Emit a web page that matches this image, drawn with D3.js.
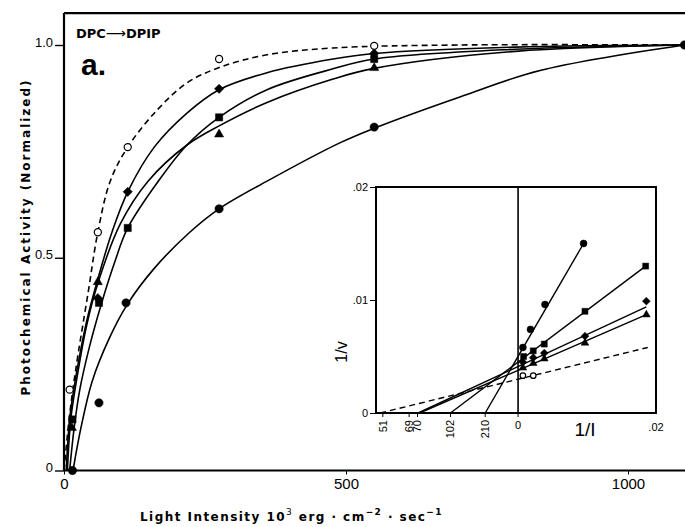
<!DOCTYPE html>
<html>
<head>
<meta charset="utf-8">
<script src="https://cdn.jsdelivr.net/npm/d3@7"></script>
<style>
  body { margin: 0; background: #fff; }
  svg { display: block; }
  .tick text { font-family: "Liberation Sans", Arial, sans-serif; fill: #000; }
</style>
</head>
<body>
<svg id="chart" width="685" height="527"></svg>
<script>
// ---- main chart: light saturation curves (x = 10^3 erg/cm2/sec, y = normalized activity)
var openPts     = [[10, 0.19], [60, 0.56], [113, 0.76], [275, 0.967], [550, 0.998]];
var diamondPts  = [[60, 0.405], [113, 0.655], [275, 0.897], [550, 0.98]];
var squarePts   = [[15, 0.12], [62, 0.394], [113, 0.57], [275, 0.83], [550, 0.967]];
var trianglePts = [[14, 0.10], [60, 0.443], [275, 0.79], [550, 0.946]];
var dotPts      = [[15, 0], [62, 0.159], [110, 0.394], [275, 0.615], [550, 0.807], [1100, 1.0]];

// hand-drawn fitted curves
var openCurve     = [[0, 0], [9, 0.12], [20, 0.23], [43, 0.42], [60, 0.56], [82, 0.68], [113, 0.76], [165, 0.847], [218, 0.911], [277, 0.948], [360, 0.977], [477, 0.993], [700, 1.0], [1100, 1.0]];
var diamondCurve  = [[4, 0], [10, 0.12], [21, 0.22], [40, 0.35], [60, 0.45], [85, 0.56], [113, 0.655], [160, 0.76], [218, 0.84], [275, 0.895], [360, 0.935], [477, 0.967], [550, 0.98], [800, 0.995], [1100, 1.0]];
var squareCurve   = [[10, 0], [18, 0.10], [28, 0.19], [45, 0.29], [67, 0.395], [90, 0.49], [113, 0.57], [170, 0.685], [218, 0.765], [275, 0.83], [360, 0.895], [477, 0.944], [550, 0.967], [800, 0.99], [1100, 1.0]];
var triangleCurve = [[6, 0], [12, 0.12], [22, 0.21], [40, 0.34], [60, 0.44], [100, 0.58], [149, 0.68], [218, 0.765], [275, 0.81], [360, 0.865], [477, 0.92], [550, 0.945], [800, 0.985], [1100, 1.0]];
var dotCurve      = [[16, 0], [30, 0.10], [50, 0.21], [80, 0.31], [112, 0.39], [160, 0.475], [223, 0.56], [275, 0.615], [360, 0.68], [489, 0.77], [551, 0.805], [702, 0.878], [844, 0.94], [1100, 1.0]];

var xTicks = [0, 500, 1000];
var yTicks = [0, 0.5, 1.0];
var yTickLabels = ['0', '0.5', '1.0'];

// ---- inset: double reciprocal plot (1/I vs 1/v)
var insetOpen     = [[0.0007, 0.0033], [0.0022, 0.0033]];
var insetDiamond  = [[0.0007, 0.0045], [0.0022, 0.0049], [0.0038, 0.0053], [0.0097, 0.0068], [0.0186, 0.0099]];
var insetSquare   = [[0.0008, 0.0050], [0.0022, 0.0055], [0.0038, 0.0061], [0.0097, 0.0090], [0.0185, 0.0130]];
var insetTriangle = [[0.0007, 0.0040], [0.0022, 0.0044], [0.0038, 0.0048], [0.0097, 0.0062], [0.0186, 0.0087]];
var insetDot      = [[0.0007, 0.0058], [0.0018, 0.0074], [0.0039, 0.0096], [0.0095, 0.0150]];

// fitted lines: from x intercept (-1/K) to last point
var insetOpenLine     = [[-0.0200, 0], [0.0188, 0.0058]];
var insetDiamondLine  = [[-1 / 69, 0], [0.0186, 0.0094]];
var insetSquareLine   = [[-1 / 102, 0], [0.0185, 0.0130]];
var insetTriangleLine = [[-1 / 70, 0], [0.0186, 0.0087]];
var insetDotLine      = [[-1 / 210, 0], [0.0095, 0.0150]];

var kLabels = [51, 69, 70, 102, 210];
var insetYTicks = [0, 0.01, 0.02];
var insetYTickLabels = ['0', '.01', '.02'];

var svg = d3.select('#chart');

//scales
var x = d3.scaleLinear().domain([0, 1000]).range([64, 628]);
var y = d3.scaleLinear().domain([0, 1]).range([470.5, 45]);
var xi = d3.scaleLinear().domain([-0.0206, 0.02]).range([376, 656]);
var yi = d3.scaleLinear().domain([0, 0.02]).range([413, 187]);

//frame of main chart: left, bottom and top lines
var frameTop = y(1.075);
svg.append('line').attr('x1', x(0)).attr('x2', 685).attr('y1', frameTop).attr('y2', frameTop)
	.attr('stroke', '#000').attr('stroke-width', 2.2);

var xAxis = svg.append('g').attr('transform', 'translate(0,' + y(0) + ')')
	.call(d3.axisBottom(x).tickValues(xTicks).tickSize(4).tickPadding(4).tickFormat(d3.format('d')));
xAxis.select('.domain').attr('d', 'M' + x(0) + ',0H685').attr('stroke-width', 2.2);
xAxis.selectAll('.tick text').attr('font-size', 15);

var yAxis = svg.append('g').attr('transform', 'translate(' + x(0) + ',0)')
	.call(d3.axisLeft(y).tickValues(yTicks).tickSize(9).tickPadding(2)
		.tickFormat(function(d, i){ return yTickLabels[i]; }));
yAxis.select('.domain').attr('d', 'M0,' + y(0) + 'V' + frameTop).attr('stroke-width', 2.2);
yAxis.selectAll('.tick line').attr('stroke-width', 1.4);
yAxis.selectAll('.tick text').attr('font-size', 13).attr('dy', 0).attr('y', 1);

//axis titles
svg.append('text')
	.attr('transform', 'translate(30,237) rotate(-90)')
	.attr('text-anchor', 'middle')
	.attr('font-family', '"DejaVu Sans", sans-serif').attr('font-weight', 'bold')
	.attr('font-size', 12).attr('letter-spacing', 2)
	.text('Photochemical Activity (Normalized)');

var xTitle = svg.append('text')
	.attr('x', 140).attr('y', 521)
	.attr('font-family', '"DejaVu Sans", sans-serif').attr('font-weight', 'bold')
	.attr('font-size', 12).attr('letter-spacing', 1.45);
xTitle.append('tspan').text('Light Intensity 10');
xTitle.append('tspan').attr('dy', -6).attr('font-size', 9).attr('font-weight', 'normal').text('3');
xTitle.append('tspan').attr('dy', 6).text(' erg \u00b7 cm');
xTitle.append('tspan').attr('dy', -6).attr('font-size', 9).text('\u22122');
xTitle.append('tspan').attr('dy', 6).text(' \u00b7 sec');
xTitle.append('tspan').attr('dy', -6).attr('font-size', 9).text('\u22121');

//panel texts
var tag = svg.append('text').attr('x', 76).attr('y', 38)
	.attr('font-family', '"DejaVu Sans", sans-serif').attr('font-size', 13).attr('font-weight', 'bold');
tag.append('tspan').text('DPC');
tag.append('tspan').attr('font-weight', 'normal').attr('font-size', 14).text('\u27f6');
tag.append('tspan').text('DPIP');

svg.append('text').attr('x', 81).attr('y', 75)
	.attr('font-family', '"Liberation Sans", Arial, sans-serif').attr('font-weight', 'bold')
	.attr('font-size', 30).text('a.');

//curves
var line = d3.line().x(function(d){ return x(d[0]); }).y(function(d){ return y(d[1]); })
	.curve(d3.curveCatmullRom.alpha(0.5));

var curves = [
	{data: openCurve, dash: '6,4'},
	{data: diamondCurve},
	{data: squareCurve},
	{data: triangleCurve},
	{data: dotCurve}
];
curves.forEach(function(c){
	svg.append('path').attr('d', line(c.data))
		.attr('fill', 'none').attr('stroke', '#000').attr('stroke-width', 1.6)
		.attr('stroke-dasharray', c.dash || null);
});

//markers
function drawMarkers(pts, type, size, open, sx, sy){
	svg.append('g').selectAll('path').data(pts).enter().append('path')
		.attr('transform', function(d){ return 'translate(' + sx(d[0]) + ',' + sy(d[1]) + ')'; })
		.attr('d', d3.symbol().type(type).size(size))
		.attr('fill', open ? '#fff' : '#000')
		.attr('stroke', '#000').attr('stroke-width', open ? 1.2 : 0.5);
}
drawMarkers(dotPts, d3.symbolCircle, 55, false, x, y);
drawMarkers(squarePts, d3.symbolSquare, 52, false, x, y);
drawMarkers(trianglePts, d3.symbolTriangle, 36, false, x, y);
drawMarkers(diamondPts, d3.symbolDiamond2, 55, false, x, y);
drawMarkers(openPts, d3.symbolCircle, 40, true, x, y);

// ---------------- inset ----------------
var inset = svg.append('g');
inset.append('rect').attr('x', xi.range()[0]).attr('y', yi(0.02))
	.attr('width', xi.range()[1] - xi.range()[0]).attr('height', yi(0) - yi(0.02))
	.attr('fill', 'none').attr('stroke', '#000').attr('stroke-width', 2);
inset.append('line').attr('x1', xi(0)).attr('x2', xi(0)).attr('y1', yi(0)).attr('y2', yi(0.02))
	.attr('stroke', '#000').attr('stroke-width', 1.6);

var iyAxis = inset.append('g').attr('transform', 'translate(' + xi.range()[0] + ',0)')
	.call(d3.axisLeft(yi).tickValues(insetYTicks).tickSize(6).tickPadding(2)
		.tickFormat(function(d, i){ return insetYTickLabels[i]; }));
iyAxis.select('.domain').remove();
iyAxis.selectAll('.tick text').attr('font-size', 11);

//x ticks at -1/K, labelled with K
var kPos = kLabels.map(function(k){ return -1 / k; });
var ixAxis = inset.append('g').attr('transform', 'translate(0,' + yi(0) + ')')
	.call(d3.axisBottom(xi).tickValues(kPos.concat([0])).tickSize(4)
		.tickFormat(function(d, i){ return i < kLabels.length ? kLabels[i] : '0'; }));
ixAxis.select('.domain').remove();
ixAxis.selectAll('.tick').attr('transform', function(d, i){
	var nudge = [0, -9, -2, 0, 0, 0][i]; //69 and 70 are spread apart
	return 'translate(' + (xi(d) + nudge) + ',0)';
});
ixAxis.selectAll('.tick text')
	.attr('font-size', 11)
	.attr('transform', 'rotate(-90)')
	.attr('text-anchor', 'end')
	.attr('x', -7).attr('y', 0).attr('dy', '0.35em');
ixAxis.selectAll('.tick').filter(function(d){ return d === 0; }).select('text')
	.attr('transform', null).attr('text-anchor', 'middle').attr('x', 0).attr('y', 8).attr('dy', '0.71em');

inset.append('text').attr('x', xi(0.02)).attr('y', yi(0) + 18).attr('text-anchor', 'middle')
	.attr('font-family', '"Liberation Sans", Arial, sans-serif').attr('font-size', 11).text('.02');
inset.append('text').attr('x', 585).attr('y', 436).attr('text-anchor', 'middle')
	.attr('font-family', '"Liberation Sans", Arial, sans-serif').attr('font-size', 19).text('1/I');
inset.append('text').attr('transform', 'translate(347,352) rotate(-90)').attr('text-anchor', 'middle')
	.attr('font-family', '"Liberation Sans", Arial, sans-serif').attr('font-size', 16).text('1/v');

var iline = d3.line().x(function(d){ return xi(d[0]); }).y(function(d){ return yi(d[1]); });
[
	{data: insetOpenLine, dash: '6,4'},
	{data: insetDiamondLine},
	{data: insetSquareLine},
	{data: insetTriangleLine},
	{data: insetDotLine}
].forEach(function(c){
	inset.append('path').attr('d', iline(c.data))
		.attr('fill', 'none').attr('stroke', '#000').attr('stroke-width', 1.4)
		.attr('stroke-dasharray', c.dash || null);
});

drawMarkers(insetDot, d3.symbolCircle, 38, false, xi, yi);
drawMarkers(insetSquare, d3.symbolSquare, 36, false, xi, yi);
drawMarkers(insetDiamond, d3.symbolDiamond2, 40, false, xi, yi);
drawMarkers(insetTriangle, d3.symbolTriangle, 26, false, xi, yi);
drawMarkers(insetOpen, d3.symbolCircle, 24, true, xi, yi);
</script>
</body>
</html>
